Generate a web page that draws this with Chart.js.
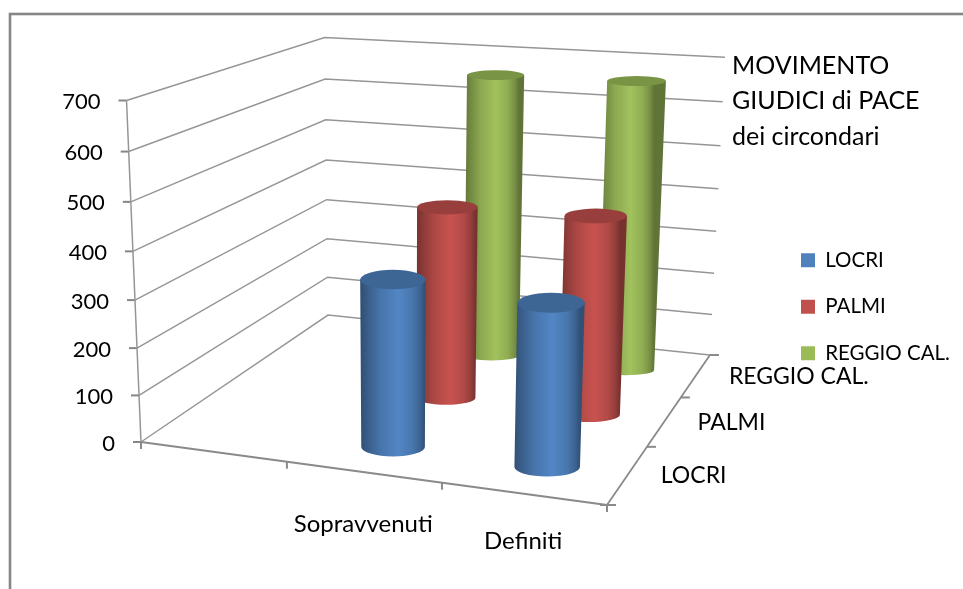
<!DOCTYPE html>
<html>
<head>
<meta charset="utf-8">
<style>
  html,body{margin:0;padding:0;background:#fff;overflow:hidden}
  canvas{display:block}
</style>
</head>
<body>
<canvas id="chart" width="963" height="589"></canvas>
<script src="https://cdn.jsdelivr.net/npm/chart.js@4/dist/chart.umd.js"></script>
<script>
// data
const categories = ["Sopravvenuti","Definiti"];
const seriesNames = ["LOCRI","PALMI","REGGIO CAL."];
const locri = [346,330];
const palmi = [423,430];
const reggio = [658,662];
const seriesValues = [locri,palmi,reggio];
const seriesColors = ["#4F81BD","#C0504D","#9BBB59"];
const yTicks = [0,100,200,300,400,500,600,700];
const titleLines = ["MOVIMENTO","GIUDICI di PACE","dei circondari"];

// 3D box of the plot: floor homography (u along categories, v in depth) from its 4 corners
const H = {a:412.4,b:266.9,c:141,d:18.4,e:-50.2,f:442,g:-0.0883,h:0.2437};
const PX_PER_UNIT = 341.5/700;   // value scale on the front left edge
const ORIGIN_Y = 442;
const WARP = 0.055;              // vertical foreshortening of the value axis
const LEAN = 0.000163, LEAN_X = 401;  // verticals converge slightly downwards
const BODY_WIDTH = 63.4;
const BASE_DROP = 2.5;
const FONT = "Lato, 'Liberation Sans', sans-serif";
const INK = "#000";

function depthScale(u,v){ return 1/(H.g*u+H.h*v+1); }
function floorPoint(u,v){
  const w=depthScale(u,v);
  return {x:(H.a*u+H.b*v+H.c)*w, y:(H.d*u+H.e*v+H.f)*w};
}
function warp(value){ const t=value/700; return 700*t/(1+WARP*(1-t)); }
// position in scale units of a value standing at floor position u,v
function project(u,v,value){
  const p=floorPoint(u,v);
  const lift=(ORIGIN_Y-p.y)/PX_PER_UNIT;
  return {x:p.x, base:lift, top:lift+warp(value)*Math.pow(depthScale(u,v),0.95)};
}
function lean(x,heightPx){ return x+(x-LEAN_X)*LEAN*heightPx; }
function slotU(c){ return (c+1.5)/3; }       // first slot of the floor is empty in the original
function slotV(s){ return (s+0.5)/3; }

function shade(hex,f){
  const n=parseInt(hex.slice(1),16);
  const ch=s=>Math.min(255,Math.round(((n>>s)&255)*f));
  return `rgb(${ch(16)},${ch(8)},${ch(0)})`;
}

class CylinderElement extends Chart.BarElement {
  static id='cylinder';
  draw(ctx){
    const {x,y,base,info}=this;
    const color=this.options.backgroundColor, h=base-y;
    const w=BODY_WIDTH*info.scale;
    const lb=x-w/2, rb=x+w/2, lt=lean(lb,h), rt=lean(rb,h);
    const cxT=(lt+rt)/2, wT=rt-lt;
    const ryB=w*info.flat, ryT=wT*info.flat;
    const g=ctx.createLinearGradient(lb,0,rb,0);
    [[0,.62],[.1,.72],[.3,.9],[.58,1.04],[.8,.92],[.93,.76],[1,.62]].forEach(([o,f])=>g.addColorStop(o,shade(color,f)));
    ctx.save();
    ctx.beginPath();
    ctx.moveTo(lt,y);
    ctx.lineTo(lb,base+BASE_DROP);
    ctx.ellipse(x,base+BASE_DROP,w/2,ryB,0,Math.PI,0,true);
    ctx.lineTo(rt,y);
    ctx.closePath();
    ctx.fillStyle=g;
    ctx.fill();
    ctx.beginPath();
    ctx.ellipse(cxT,y,wT/2,ryT,0,0,Math.PI*2);
    ctx.fillStyle=shade(color,.79);
    ctx.fill();
    ctx.restore();
  }
}
class CylinderController extends Chart.BarController {
  static id='cylinder';
  static defaults={...Chart.BarController.defaults,dataElementType:'cylinder'};
  static overrides=Chart.BarController.overrides;
  updateElements(bars,start,count,mode){
    super.updateElements(bars,start,count,mode);
    const data=this.getDataset().data;
    for(let i=start;i<start+count;i++) bars[i].info=data[i].info;
  }
}
Chart.register(CylinderElement,CylinderController);

const datasets=seriesNames.map((name,s)=>({
  label:name,
  backgroundColor:seriesColors[s],
  borderWidth:0,
  grouped:false,
  barThickness:BODY_WIDTH,
  data:seriesValues[s].map((val,c)=>{
    const u=slotU(c), v=slotV(s), p=project(u,v,val);
    return {x:p.x, y:[p.base,p.top], info:{scale:depthScale(u,v), flat:0.165-0.095*v}};
  })
}));

const box3d={
  id:'box3d',
  afterLayout(chart){
    // native legend, moved next to the box
    const l=chart.legend;
    l.left=775; l.top=224;
  },
  beforeDatasetsDraw(chart){
    const ctx=chart.ctx, X=chart.scales.x, Y=chart.scales.y;
    const at=(u,v,val)=>{
      const p=project(u,v,val);
      const y0=Y.getPixelForValue(p.base), y1=Y.getPixelForValue(p.top);
      return {x:lean(X.getPixelForValue(p.x),y0-y1), y:y1};
    };
    const line=(a,b,col,lw)=>{
      ctx.beginPath(); ctx.moveTo(a.x,a.y); ctx.lineTo(b.x,b.y);
      ctx.strokeStyle=col; ctx.lineWidth=lw; ctx.stroke();
    };
    ctx.save();
    // outer frame, runs off the right and bottom of the picture
    ctx.strokeStyle="#868686"; ctx.lineWidth=2.6;
    ctx.strokeRect(10,14,970,600);
    // wall gridlines
    yTicks.forEach(t=>{
      const a=at(0,0,t), b=at(0,1,t), c=at(1,1,t);
      ctx.beginPath(); ctx.moveTo(a.x,a.y); ctx.lineTo(b.x,b.y); ctx.lineTo(c.x,c.y);
      ctx.strokeStyle="#969696"; ctx.lineWidth=1.5; ctx.stroke();
      line({x:a.x-8,y:a.y},a,"#868686",2);
    });
    // axes
    line(at(0,0,0),at(0,0,700),"#969696",1.5);
    line(at(0,0,0),at(1,0,0),"#8a8a8a",1.8);
    line(at(1,0,0),at(1,1,0),"#8a8a8a",1.8);
    [0,1,2,3].forEach(i=>{ const p=at(i/3,0,0); line(p,{x:p.x,y:p.y+7},"#8a8a8a",2); });
    [0,1,2,3].forEach(i=>{ const p=at(1,i/3,0); line(p,{x:p.x+9,y:p.y},"#8a8a8a",2); });
    const fl=at(1,0,0); line({x:fl.x-7,y:fl.y},fl,"#8a8a8a",2);
    ctx.restore();
  },
  afterDatasetsDraw(chart){
    const ctx=chart.ctx, X=chart.scales.x, Y=chart.scales.y;
    ctx.save();
    ctx.fillStyle=INK;
    ctx.font="22px "+FONT;
    // value tick labels follow the slanted axis
    ctx.textAlign="right"; ctx.textBaseline="middle";
    yTicks.forEach(t=>{
      const p=project(0,0,t), y=Y.getPixelForValue(p.top);
      const x=lean(X.getPixelForValue(p.x),Y.getPixelForValue(p.base)-y);
      ctx.fillText(String(t),x-26,y+1.5);
    });
    ctx.textBaseline="alphabetic";
    // category labels under the front edge
    ctx.textAlign="center";
    ctx.font="24px "+FONT;
    const catDrop=[60,55];
    categories.forEach((name,c)=>{
      const p=floorPoint(slotU(c),0);
      ctx.fillText(name,X.getPixelForValue(p.x),p.y+catDrop[c]);
    });
    // depth labels along the right edge
    ctx.textAlign="left";
    ctx.font="23px "+FONT;
    seriesNames.forEach((name,s)=>{
      const p=floorPoint(1,slotV(s));
      ctx.fillText(name,X.getPixelForValue(p.x)+33,p.y+8.5);
    });
    // text box at the top right
    ctx.font="25px "+FONT;
    titleLines.forEach((txt,i)=>ctx.fillText(txt,732,[74,109,145][i]));
    ctx.restore();
  }
};

new Chart(document.getElementById('chart'),{
  type:'cylinder',
  data:{datasets},
  plugins:[box3d],
  options:{
    responsive:false,
    animation:false,
    devicePixelRatio:1,
    layout:{padding:0},
    scales:{
      x:{type:'linear',display:false,offset:false,min:0,max:963},
      y:{type:'linear',display:false,min:-(589-ORIGIN_Y)/PX_PER_UNIT,max:ORIGIN_Y/PX_PER_UNIT}
    },
    plugins:{
      tooltip:{enabled:false},
      legend:{
        position:'chartArea',
        align:'start',
        labels:{boxWidth:14,boxHeight:14,padding:26,color:INK,font:{family:FONT,size:20.5}}
      }
    }
  }
});
</script>
</body>
</html>
